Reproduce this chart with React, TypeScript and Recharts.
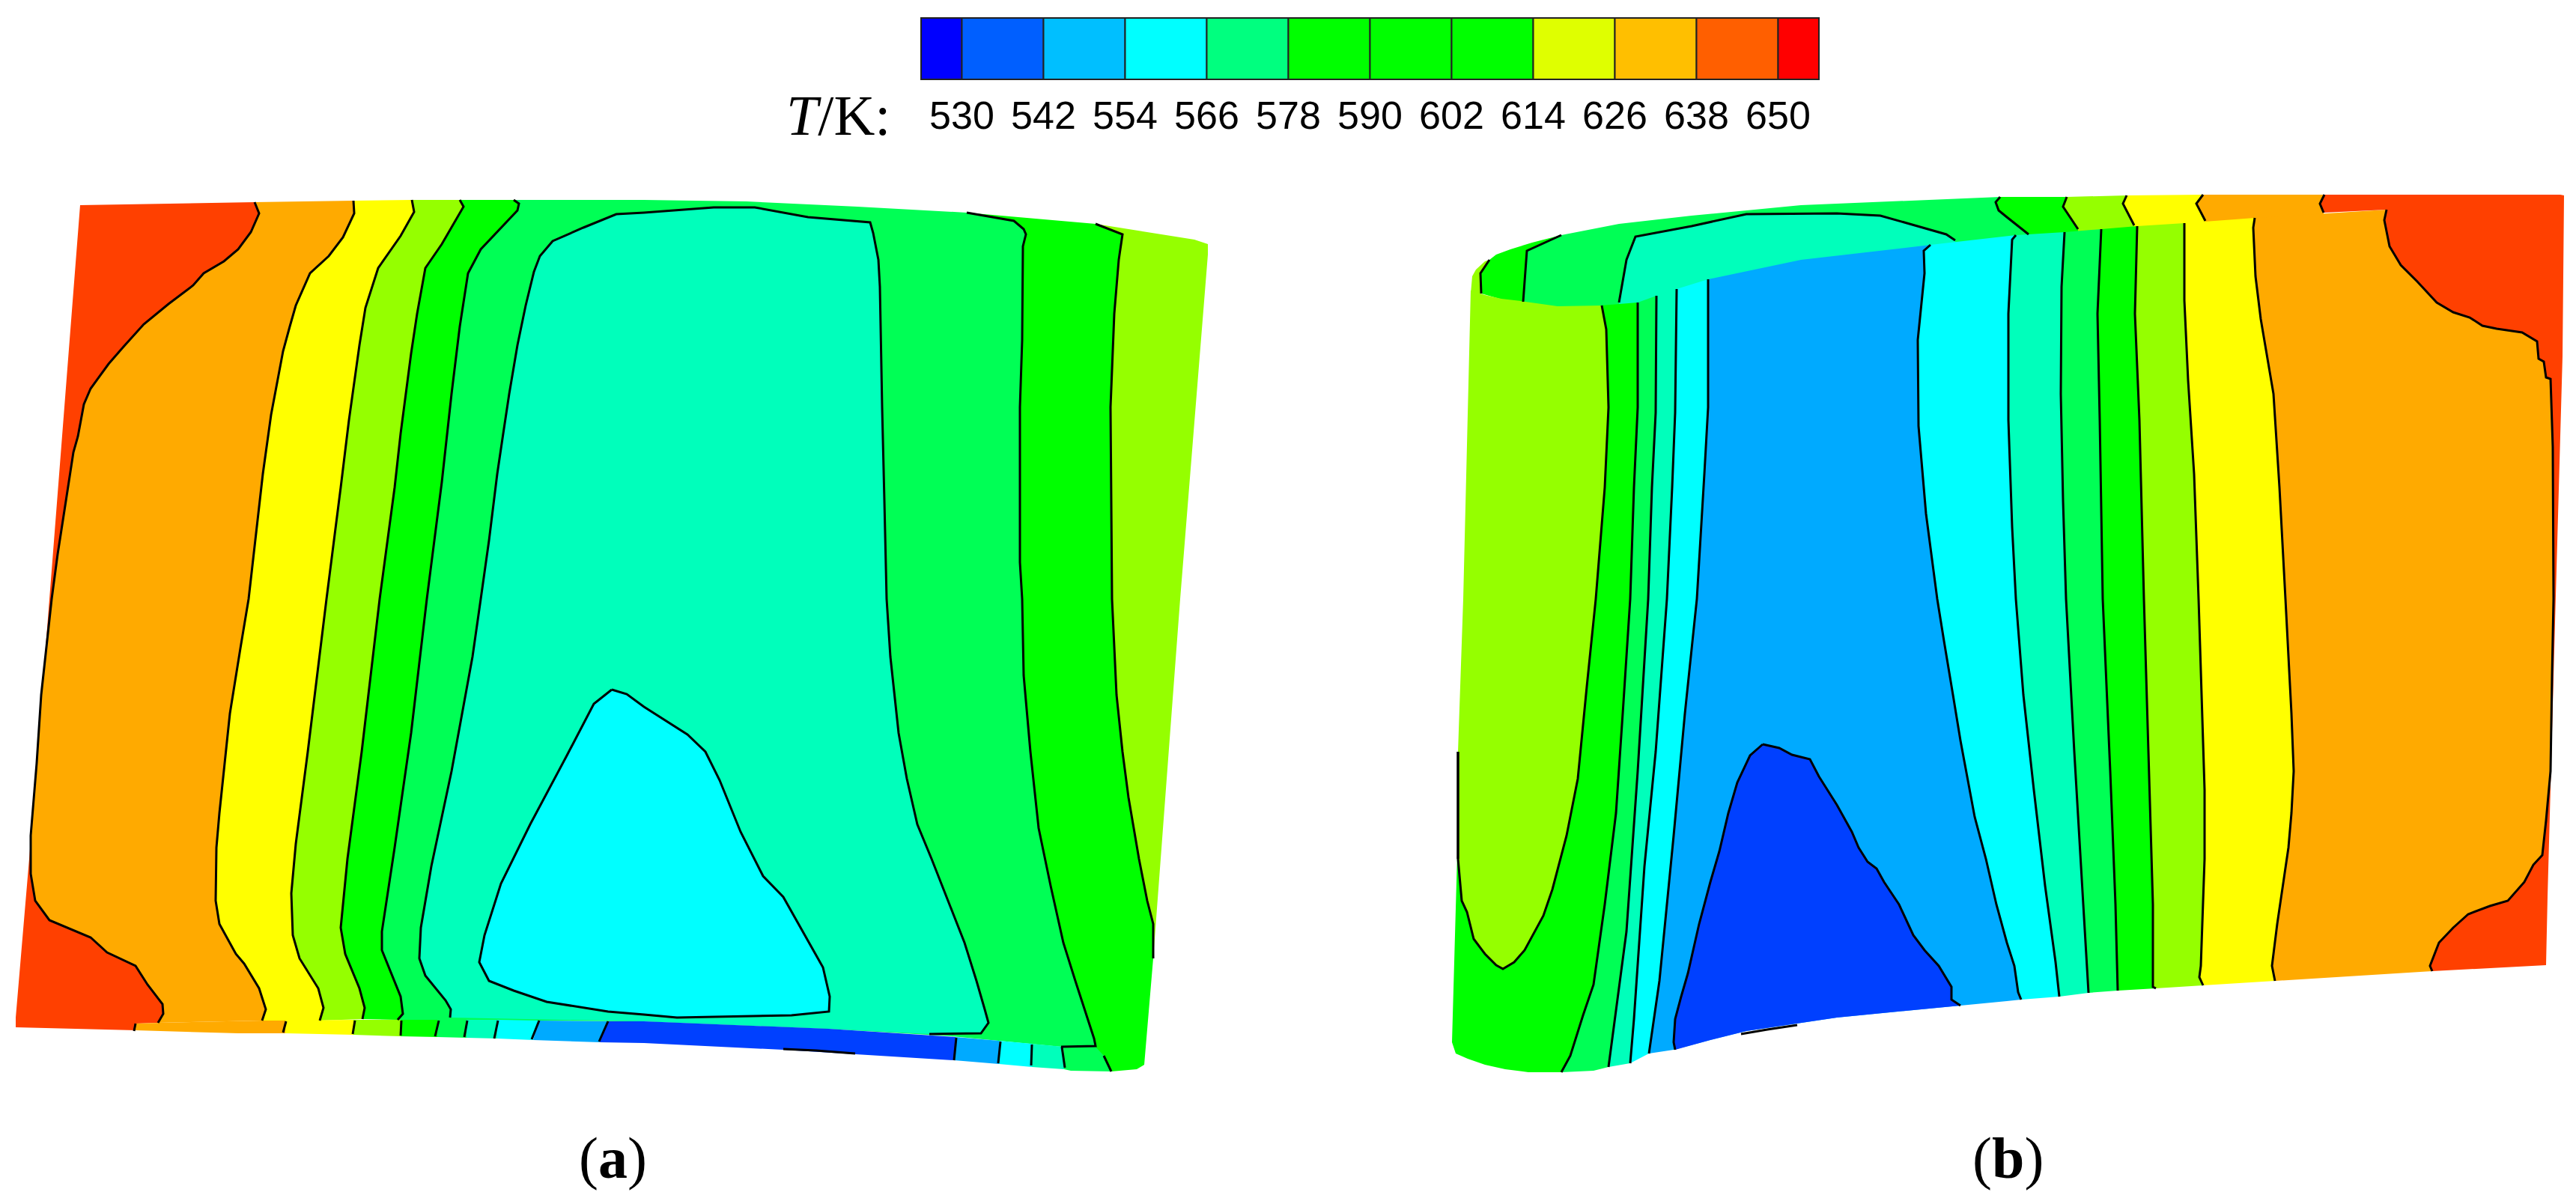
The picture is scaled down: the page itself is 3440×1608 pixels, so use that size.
import React from 'react';
import { ScatterChart, Scatter, XAxis, YAxis, BarChart, Bar } from 'recharts';

type Pt = [number, number];

// Colour bar
const levels = [530, 542, 554, 566, 578, 590, 602, 614, 626, 638, 650];
const barStart = 524;
const barCells = [6, 12, 12, 12, 12, 12, 12, 12, 12, 12, 12, 6];
const barColors = ['#0000ff', '#005fff', '#00bfff', '#00ffff', '#00ff7f', '#00ff00', '#00ff00', '#00ff00', '#dfff00', '#ffbf00', '#ff5f00', '#ff0000'];

// Contour fill colours
const RED = '#ff4000';
const ORANGE = '#ffaa00';
const YELLOW = '#ffff00';
const LIME = '#95ff00';
const GREEN = '#00ff00';
const SPRING = '#00ff55';
const AQUA = '#00ffbb';
const CYAN = '#00ffff';
const SKY = '#00aaff';
const BLUE = '#0040ff';

// ---- panel (a): contour lines ----
const a0: Pt[] = [[340, 270], [346, 285], [335, 310], [318, 333], [299, 349], [272, 365], [258, 381], [225, 406], [192, 433], [165, 463], [145, 486], [121, 519], [112, 540], [104, 583], [98, 604], [88, 669], [77, 740], [69, 800], [55, 928], [49, 1019], [41, 1116], [41, 1167], [47, 1203], [66, 1229], [121, 1252], [143, 1272], [181, 1290], [197, 1315], [217, 1341], [218, 1354], [211, 1366]];
const a1: Pt[] = [[472, 268], [473, 285], [458, 317], [439, 342], [414, 365], [395, 408], [387, 436], [378, 469], [362, 554], [351, 633], [332, 800], [321, 866], [307, 953], [293, 1086], [289, 1132], [288, 1203], [293, 1234], [315, 1274], [326, 1287], [346, 1320], [355, 1348], [350, 1363]];
const a2: Pt[] = [[550, 267], [553, 283], [535, 315], [505, 358], [488, 411], [480, 461], [466, 561], [455, 651], [436, 800], [411, 1004], [395, 1127], [389, 1193], [391, 1249], [400, 1280], [425, 1320], [432, 1346], [427, 1363]];
const a3: Pt[] = [[614, 267], [619, 276], [590, 326], [568, 358], [557, 419], [549, 472], [535, 579], [527, 651], [507, 800], [483, 1004], [464, 1147], [455, 1239], [461, 1274], [480, 1320], [487, 1346], [484, 1361]];
const a4: Pt[] = [[686, 267], [693, 272], [691, 281], [642, 333], [625, 365], [614, 436], [603, 526], [590, 644], [570, 800], [549, 979], [527, 1132], [510, 1244], [510, 1269], [535, 1331], [538, 1354], [531, 1362]];
const a5: Pt[] = [[601, 1359], [602, 1348], [595, 1336], [568, 1303], [560, 1280], [562, 1239], [576, 1157], [603, 1030], [631, 877], [642, 800], [653, 722], [664, 633], [672, 579], [680, 526], [691, 461], [702, 408], [713, 363], [721, 342], [738, 322], [779, 304], [823, 286], [860, 284], [953, 277], [1008, 277], [1079, 290], [1162, 297], [1166, 311], [1173, 347], [1175, 383], [1178, 544], [1181, 669], [1184, 800], [1189, 877], [1200, 979], [1211, 1040], [1225, 1101], [1244, 1147], [1266, 1203], [1288, 1259], [1304, 1310], [1315, 1348], [1320, 1366], [1310, 1380], [1241, 1381]];
const aCore: Pt[] = [[817, 921], [793, 940], [757, 1009], [708, 1101], [669, 1180], [647, 1249], [640, 1285], [653, 1310], [686, 1323], [730, 1338], [812, 1351], [860, 1355], [904, 1359], [1057, 1356], [1107, 1351], [1108, 1331], [1099, 1292], [1046, 1198], [1019, 1170], [989, 1111], [961, 1042], [942, 1004], [918, 981], [860, 944], [837, 927], [817, 921]];
const a6: Pt[] = [[1291, 284], [1354, 295], [1367, 306], [1370, 313], [1366, 329], [1365, 454], [1362, 544], [1362, 751], [1365, 800], [1367, 902], [1376, 1004], [1387, 1106], [1403, 1183], [1420, 1259], [1436, 1310], [1461, 1387], [1463, 1397], [1417, 1398]];
const a7: Pt[] = [[1463, 299], [1499, 313], [1494, 347], [1488, 419], [1483, 544], [1485, 800], [1491, 928], [1499, 1004], [1507, 1065], [1521, 1147], [1532, 1203], [1540, 1234], [1540, 1280]];

// short contour ends on the lower strip of (a)
const aTicks: Pt[][] = [
  [[181, 1367], [179, 1377]], [[382, 1364], [378, 1379]], [[474, 1363], [471, 1381]], [[536, 1363], [535, 1383]],
  [[586, 1363], [581, 1384]], [[624, 1363], [620, 1385]], [[665, 1363], [660, 1387]], [[720, 1363], [710, 1388]],
  [[812, 1364], [800, 1391]], [[1277, 1386], [1274, 1416]], [[1336, 1391], [1333, 1420]], [[1378, 1395], [1377, 1423]],
  [[1418, 1398], [1422, 1426]], [[1474, 1410], [1484, 1431]], [[1046, 1401], [1090, 1403], [1142, 1407]],
];

// ---- panel (b): contour lines ----
const bU: Pt[] = [[2139, 408], [2145, 440], [2148, 544], [2143, 651], [2131, 800], [2119, 917], [2107, 1040], [2092, 1116], [2073, 1188], [2061, 1223], [2036, 1269], [2022, 1285], [2007, 1294], [1998, 1289], [1983, 1274], [1968, 1254], [1959, 1218], [1952, 1203], [1947, 1147], [1947, 1004]];
const b2: Pt[] = [[2187, 404], [2187, 544], [2182, 651], [2177, 800], [2167, 953], [2158, 1086], [2143, 1208], [2128, 1315], [2114, 1356], [2097, 1410], [2085, 1432]];
const b3: Pt[] = [[2212, 395], [2211, 551], [2206, 651], [2201, 800], [2187, 1030], [2172, 1244], [2148, 1425]];
const b4: Pt[] = [[2239, 386], [2237, 551], [2233, 651], [2226, 800], [2211, 1004], [2196, 1157], [2182, 1361], [2177, 1420]];
const b5: Pt[] = [[2281, 373], [2281, 544], [2276, 633], [2266, 800], [2250, 953], [2235, 1116], [2216, 1310], [2202, 1407]];
const b6: Pt[] = [[2578, 327], [2569, 335], [2570, 365], [2561, 454], [2562, 569], [2572, 686], [2587, 800], [2596, 856], [2608, 928], [2618, 989], [2637, 1091], [2652, 1147], [2666, 1208], [2680, 1259], [2690, 1290], [2695, 1325], [2699, 1335]];
const bCore: Pt[] = [[2354, 994], [2337, 1009], [2320, 1045], [2308, 1086], [2296, 1137], [2284, 1178], [2269, 1234], [2254, 1300], [2245, 1331], [2237, 1361], [2235, 1392], [2237, 1402]];
const bCoreEnd: Pt[] = [[2618, 1343], [2606, 1335], [2606, 1318], [2589, 1290], [2570, 1269], [2555, 1249], [2536, 1208], [2516, 1178], [2506, 1160], [2494, 1151], [2482, 1132], [2473, 1111], [2453, 1075], [2429, 1037], [2417, 1014], [2393, 1008], [2376, 999], [2354, 994]];
const b7: Pt[] = [[2692, 314], [2687, 320], [2682, 419], [2682, 561], [2687, 704], [2692, 800], [2702, 928], [2716, 1055], [2731, 1183], [2745, 1285], [2750, 1331]];
const b8: Pt[] = [[2757, 310], [2753, 383], [2752, 526], [2755, 669], [2759, 800], [2770, 1004], [2782, 1208], [2789, 1326]];
const b9: Pt[] = [[2806, 306], [2801, 419], [2804, 561], [2808, 800], [2818, 1030], [2825, 1208], [2828, 1323]];
const b10: Pt[] = [[2854, 302], [2851, 419], [2857, 561], [2863, 800], [2869, 1004], [2875, 1208], [2875, 1318], [2879, 1320]];
const b11: Pt[] = [[2917, 298], [2917, 401], [2922, 508], [2930, 633], [2936, 800], [2944, 1055], [2944, 1147], [2939, 1290], [2937, 1305], [2942, 1316]];
const b12: Pt[] = [[3011, 291], [3009, 304], [3012, 369], [3019, 426], [3036, 526], [3044, 651], [3052, 800], [3060, 953], [3063, 1030], [3060, 1086], [3056, 1132], [3041, 1234], [3034, 1290], [3038, 1310]];
const b13: Pt[] = [[3187, 280], [3184, 294], [3191, 329], [3206, 354], [3228, 376], [3254, 404], [3276, 417], [3298, 424], [3315, 435], [3334, 439], [3368, 444], [3388, 456], [3390, 479], [3397, 483], [3400, 504], [3406, 506], [3409, 597], [3410, 800], [3408, 902], [3406, 1030], [3400, 1096], [3395, 1142], [3383, 1155], [3371, 1178], [3349, 1203], [3325, 1210], [3296, 1221], [3276, 1239], [3257, 1259], [3245, 1290], [3248, 1297]];

// contours on the visible upper (rear) face of (b)
const bt1: Pt[] = [[1989, 347], [1977, 365], [1978, 392]];
const bt2: Pt[] = [[2085, 314], [2039, 335], [2034, 403]];
const bt3: Pt[] = [[2162, 404], [2172, 347], [2184, 316], [2259, 302], [2332, 286], [2453, 285], [2511, 288], [2550, 299], [2599, 313], [2611, 321]];
const bt4: Pt[] = [[2671, 263], [2665, 270], [2669, 281], [2680, 290], [2709, 313]];
const bt5: Pt[] = [[2760, 263], [2755, 276], [2775, 306]];
const bt6: Pt[] = [[2840, 261], [2835, 272], [2850, 301]];
const bt7: Pt[] = [[2942, 260], [2933, 272], [2945, 295]];
const bt8: Pt[] = [[3104, 260], [3098, 272], [3103, 284]];
const bEdge: Pt[] = [[2325, 1381], [2360, 1375], [2400, 1369]];
const bLeftEdge: Pt[] = [[1947, 1004], [1947, 1147]];

const rev = (p: Pt[]) => [...p].reverse();
const close = (p: Pt[]) => [...p, p[0]];
const band = (l: Pt[], mid: Pt[], r: Pt[]) => close([...l, ...mid, ...rev(r)]);

// filled regions, painted in order
const regions: { fill: string; pts: Pt[] }[] = [
  // (a) main face
  { fill: RED, pts: close([[107, 274], ...a0, [181, 1367], [181, 1376], [21, 1372], [21, 1359], [39, 1147], [66, 800]]) },
  { fill: ORANGE, pts: band(a0, [], a1) },
  { fill: YELLOW, pts: band(a1, [], a2) },
  { fill: LIME, pts: band(a2, [], a3) },
  { fill: GREEN, pts: band(a3, [], a4) },
  { fill: SPRING, pts: close([...a4, [860, 1364], [1107, 1374], [1271, 1384], ...rev(a6), [1145, 276], [997, 269], [860, 267]]) },
  { fill: AQUA, pts: close([...a5, [1107, 1374], [860, 1364]]) },
  { fill: CYAN, pts: aCore },
  { fill: GREEN, pts: close([...a6, [1474, 1410], [1484, 1431], [1518, 1428], [1528, 1422], ...rev(a7)]) },
  { fill: LIME, pts: close([...a7, [1576, 800], [1613, 340], [1613, 326], [1595, 320]]) },
  // (a) lower strip
  { fill: ORANGE, pts: close([[181, 1367], [214, 1366], [351, 1363], [381, 1363], [381, 1380], [318, 1380], [181, 1376]]) },
  { fill: YELLOW, pts: close([[381, 1363], [472, 1362], [472, 1382], [381, 1380]]) },
  { fill: LIME, pts: close([[472, 1362], [535, 1362], [535, 1384], [472, 1382]]) },
  { fill: GREEN, pts: close([[535, 1362], [584, 1362], [584, 1385], [535, 1384]]) },
  { fill: SPRING, pts: close([[584, 1362], [623, 1362], [623, 1386], [584, 1385]]) },
  { fill: AQUA, pts: close([[623, 1362], [664, 1362], [664, 1387], [623, 1386]]) },
  { fill: CYAN, pts: close([[664, 1362], [719, 1363], [712, 1389], [664, 1387]]) },
  { fill: SKY, pts: close([[719, 1363], [812, 1364], [801, 1392], [712, 1389]]) },
  { fill: BLUE, pts: close([[812, 1364], [860, 1364], [1107, 1374], [1276, 1385], [1274, 1416], [1046, 1402], [860, 1393], [801, 1392]]) },
  { fill: SKY, pts: close([[1276, 1385], [1334, 1390], [1334, 1421], [1274, 1416]]) },
  { fill: CYAN, pts: close([[1334, 1390], [1378, 1394], [1378, 1425], [1334, 1421]]) },
  { fill: AQUA, pts: close([[1378, 1394], [1420, 1398], [1421, 1428], [1378, 1425]]) },
  { fill: SPRING, pts: close([[1420, 1398], [1463, 1398], [1474, 1410], [1484, 1431], [1430, 1430], [1421, 1428]]) },
  // (b) rear face, lower sides run under the front face
  { fill: LIME, pts: close([[1966, 369], [1971, 360], [1983, 349], ...bt1, [1964, 392]]) },
  { fill: GREEN, pts: close([...bt1, [2034, 408], ...rev(bt2), [2046, 324], [2017, 333], [1998, 340]]) },
  { fill: SPRING, pts: close([...bt2, [2034, 408], [2080, 415], [2138, 414], [2187, 408], [2240, 391], [2281, 379], [2405, 353], [2569, 333], [2611, 328], [2680, 322], [2709, 318], ...rev(bt4), [2405, 274], [2259, 288], [2162, 299]]) },
  { fill: AQUA, pts: close([...bt3, [2611, 328], [2405, 353], [2281, 379], [2240, 391], [2187, 408], [2162, 410]]) },
  { fill: GREEN, pts: band(bt4, [[2709, 318], [2775, 311]], bt5) },
  { fill: LIME, pts: band(bt5, [[2775, 311], [2850, 306]], bt6) },
  { fill: YELLOW, pts: band(bt6, [[2850, 306], [2945, 300]], bt7) },
  { fill: ORANGE, pts: close([...bt7, [2945, 300], [3011, 296], [3103, 289], ...rev(bt8)]) },
  // (b) front face
  { fill: GREEN, pts: close([...bU, [1947, 1106], [1939, 1392], [1944, 1407], [1960, 1414], [1983, 1422], [2010, 1428], [2041, 1432], ...rev(b2), [2138, 408]]) },
  { fill: LIME, pts: close([[1964, 388], [1983, 394], [2005, 399], [2031, 402], [2080, 409], ...bU, [1954, 800]]) },
  { fill: SPRING, pts: band(b2, [[2128, 1430]], b3) },
  { fill: AQUA, pts: band(b3, [], b4) },
  { fill: CYAN, pts: band(b4, [], b5) },
  { fill: SKY, pts: close([...b5, [2235, 1402], [2284, 1389], [2332, 1377], [2453, 1359], [2618, 1343], [2680, 1337], ...rev(b6), [2405, 347]]) },
  { fill: BLUE, pts: close([...bCore, [2284, 1389], [2332, 1377], [2453, 1359], ...bCoreEnd]) },
  { fill: CYAN, pts: band(b6, [], b7) },
  { fill: AQUA, pts: band(b7, [], b8) },
  { fill: SPRING, pts: band(b8, [], b9) },
  { fill: GREEN, pts: band(b9, [], b10) },
  { fill: LIME, pts: band(b10, [], b11) },
  { fill: YELLOW, pts: band(b11, [], b12) },
  { fill: ORANGE, pts: band(b12, [], b13) },
  { fill: RED, pts: close([...b13, [3400, 1289], [3402, 1198], [3412, 831], [3422, 476], [3424, 261], [3419, 260], [3104, 260], [3098, 272], [3103, 284]]) },
];

const contours: Pt[][] = [
  a0, a1, a2, a3, a4, a5, aCore, a6, a7, ...aTicks,
  bU, b2, b3, b4, b5, b6, bCore, bCoreEnd, b7, b8, b9, b10, b11, b12, b13,
  bt1, bt2, bt3, bt4, bt5, bt6, bt7, bt8, bEdge, bLeftEdge,
];

const toData = (p: Pt[]) => p.map(([x, y]) => ({ x, y }));
const noDot = () => null;

const barRow = [Object.fromEntries(barCells.map((v, i) => [`c${i}`, v]))];
const barTotal = barCells.reduce((s, v) => s + v, 0);

const App = () => (
  <div style={{ position: 'absolute', left: 0, top: 0, width: 3440, height: 1608, background: '#fff', overflow: 'hidden' }}>
    <div style={{ position: 'absolute', left: 0, top: 0 }}>
      <ScatterChart width={3440} height={1608} margin={{ top: 0, right: 0, bottom: 0, left: 0 }}>
        <XAxis type="number" dataKey="x" domain={[0, 3440]} hide />
        <YAxis type="number" dataKey="y" domain={[0, 1608]} reversed hide />
        {regions.map((r, i) => (
          <Scatter key={`r${i}`} data={toData(r.pts)} line={{ fill: r.fill, stroke: 'none' }} shape={noDot} isAnimationActive={false} />
        ))}
        {contours.map((c, i) => (
          <Scatter key={`c${i}`} data={toData(c)} line={{ fill: 'none', stroke: '#000', strokeWidth: 3 }} shape={noDot} isAnimationActive={false} />
        ))}
      </ScatterChart>
    </div>

    <div style={{ position: 'absolute', left: 1228, top: 22 }}>
      <BarChart width={1203} height={170} layout="vertical" data={barRow} barCategoryGap={0} margin={{ top: 2, right: 2, bottom: 0, left: 2 }}>
        <XAxis
          type="number"
          domain={[0, barTotal]}
          ticks={levels.map((l) => l - barStart)}
          tickFormatter={(v: number) => String(v + barStart)}
          interval={0}
          height={86}
          axisLine={false}
          tickLine={false}
          tickSize={0}
          tickMargin={29}
          tick={{ fontFamily: 'Liberation Sans', fontSize: 52, fill: '#000' }}
        />
        <YAxis type="category" hide />
        {barCells.map((_, i) => (
          <Bar key={i} dataKey={`c${i}`} stackId="t" fill={barColors[i]} stroke="#222" strokeWidth={2} isAnimationActive={false} />
        ))}
      </BarChart>
    </div>

    <div style={{ position: 'absolute', left: 1050, top: 116, fontFamily: 'Liberation Serif', fontSize: 76, lineHeight: 1, color: '#000' }}>
      <i>T</i>/K:
    </div>
    <div style={{ position: 'absolute', left: 773, top: 1508, fontFamily: 'Liberation Serif', fontSize: 78, lineHeight: 1, color: '#000' }}>
      (<b>a</b>)
    </div>
    <div style={{ position: 'absolute', left: 2634, top: 1508, fontFamily: 'Liberation Serif', fontSize: 78, lineHeight: 1, color: '#000' }}>
      (<b>b</b>)
    </div>
  </div>
);

export default App;
